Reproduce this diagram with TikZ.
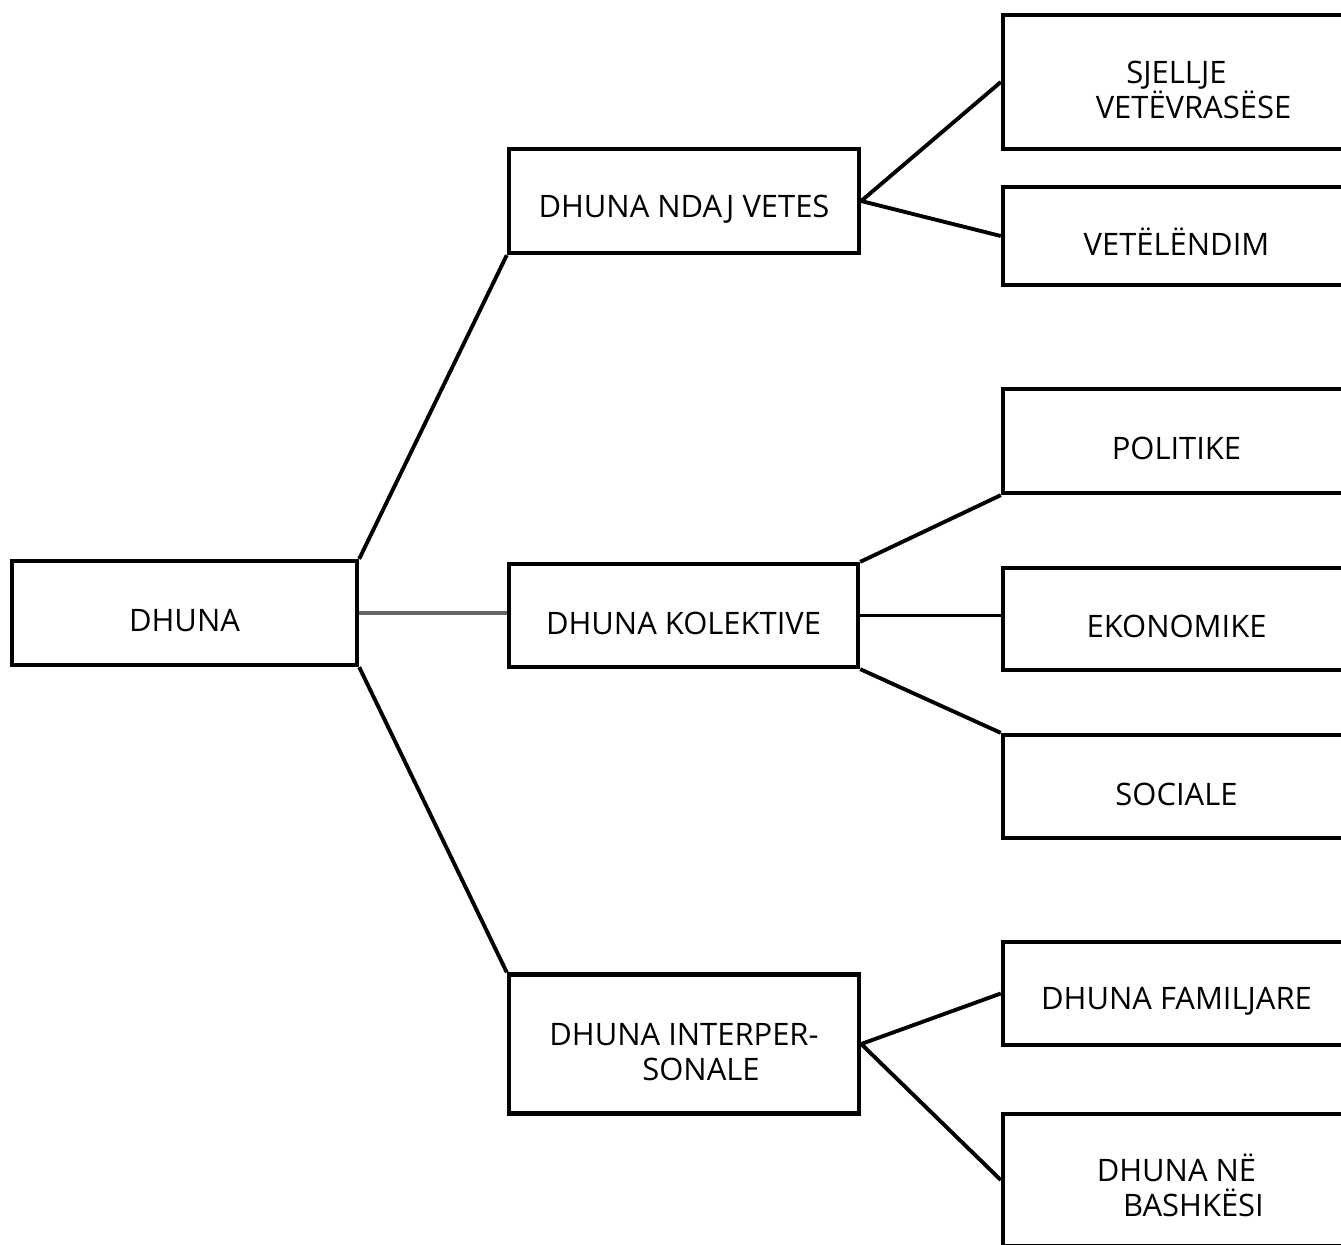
\documentclass[tikz,border=0pt]{standalone}
\usepackage{fontspec}
\setmainfont{Open Sans}
\begin{document}
\begin{tikzpicture}
[
    x=0.01cm, y=-0.01cm,
    box/.style={draw, line width=1.2pt, minimum width=3.47cm, minimum height=1.04cm,
        text height=0.38cm, font=\fontsize{8.8}{9.7}\selectfont},
    twolines/.style={align=center, text height=0.72cm, text depth=0cm},
    edge/.style={line width=1.1pt}
]
    \clip (0,0) rectangle (1341,1244);

    % root and the three kinds
    \node [box, minimum width=3.45cm] (dhuna) at (184.5,613) {DHUNA};
    \node [box, minimum width=3.50cm] (vetes) at (684,201) {DHUNA NDAJ VETES};
    \node [box, minimum width=3.49cm, minimum height=1.03cm] (kolektive) at (683.5,615.5) {DHUNA KOLEKTIVE};
    \node [box, twolines, minimum width=3.50cm, minimum height=1.39cm] (inter) at (684,1044)
        {DHUNA INTERPER-\\\hspace*{0.34cm}SONALE};

    % subtypes, cut off at the right edge
    \node [box, twolines, minimum height=1.34cm] (sjellje) at (1176.5,82)
        {SJELLJE\\\hspace*{0.34cm}VETËVRASËSE};
    \node [box, minimum height=0.98cm] (vetelendim) at (1176.5,236) {VETËLËNDIM};
    \node [box] (politike) at (1176.5,441) {POLITIKE};
    \node [box, minimum height=1.02cm] (ekonomike) at (1176.5,619) {EKONOMIKE};
    \node [box, minimum height=1.03cm] (sociale) at (1176.5,786.5) {SOCIALE};
    \node [box, minimum height=1.03cm] (familjare) at (1176.5,993.5) {DHUNA FAMILJARE};
    \node [box, twolines, minimum height=1.32cm] (bashkesi) at (1176.5,1180)
        {DHUNA NË\\\hspace*{0.34cm}BASHKËSI};

    \draw [edge] (dhuna.north east) -- (vetes.south west);
    \draw [edge, black!60, line width=0.9pt] (dhuna.east) -- (dhuna.east -| kolektive.west);
    \draw [edge] (dhuna.south east) -- (inter.north west);

    \draw [edge] (vetes.east) -- (sjellje.west);
    \draw [edge] (vetes.east) -- (vetelendim.west);

    \draw [edge] (kolektive.north east) -- (politike.south west);
    \draw [edge] (kolektive.east) -- (kolektive.east -| ekonomike.west);
    \draw [edge] (kolektive.south east) -- (sociale.north west);

    \draw [edge] (inter.east) -- (familjare.west);
    \draw [edge] (inter.east) -- (bashkesi.west);
\end{tikzpicture}
\end{document}
